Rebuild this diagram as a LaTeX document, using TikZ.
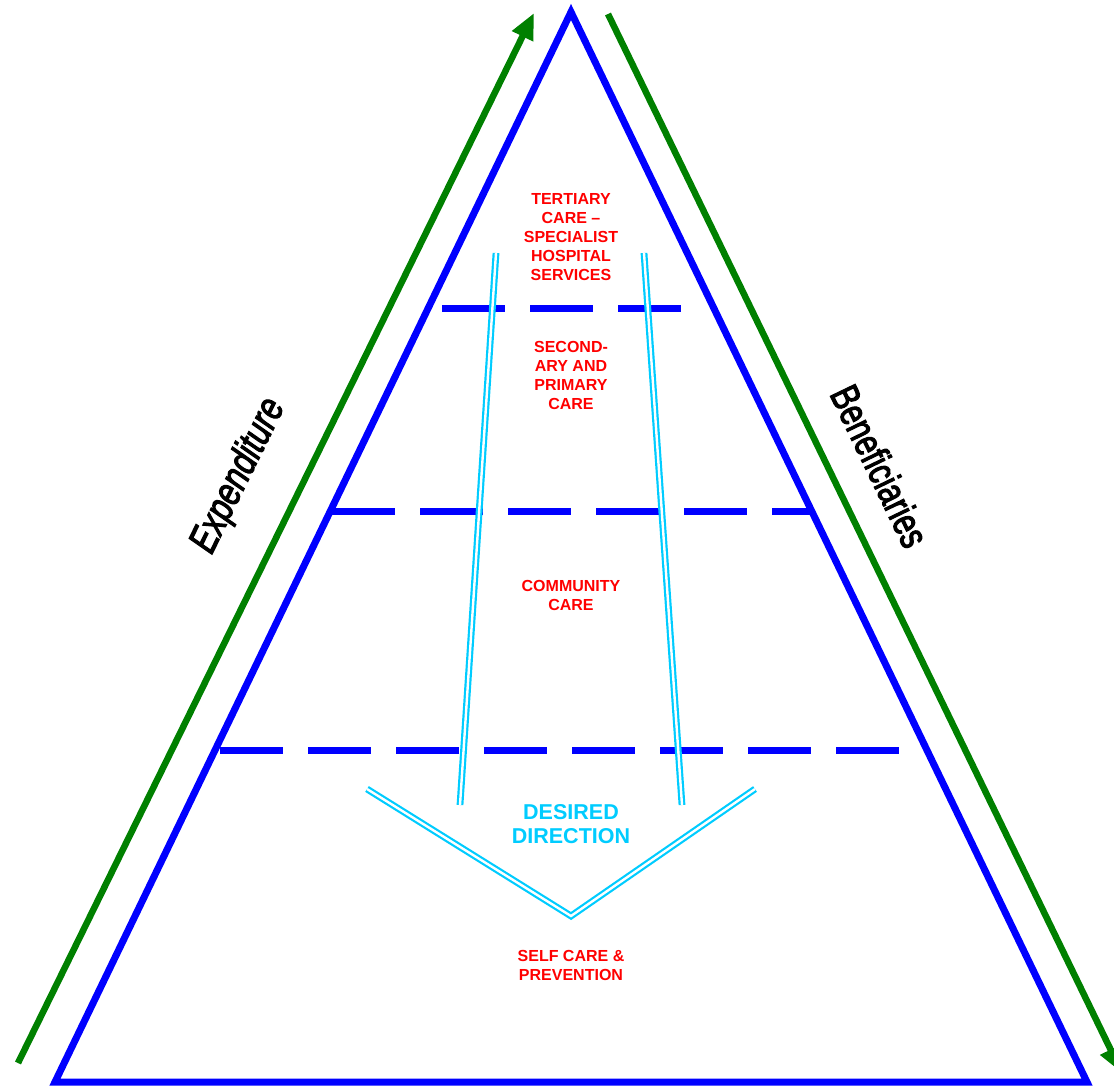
\documentclass[tikz,border=0pt]{standalone}
\usepackage{fontspec}
\setmainfont{Liberation Sans}
\usetikzlibrary{arrows.meta}
\definecolor{pblue}{RGB}{0,0,255}
\definecolor{pgreen}{RGB}{0,128,0}
\definecolor{pred}{RGB}{255,0,0}
\definecolor{pcyan}{RGB}{0,204,255}
\newcommand{\heavytext}[1]{\special{pdf:code q 2 Tr 1.2 w 0 G}#1\special{pdf:code Q}}
\tikzset{
  tri/.style={draw=pblue, line width=7pt, line join=miter},
  garrow/.style={draw=pgreen, line width=6.5pt, -{Triangle[length=26pt,width=22pt]}},
  level/.style={draw=pblue, line width=7pt, dash pattern=on 63pt off 25pt},
  dir/.style={draw=pcyan, line width=2.2pt, double=white, double distance=2.4pt},
  caretext/.style={text=pred, font=\fontsize{16}{19}\selectfont\bfseries, align=center, inner sep=0pt},
  dirtext/.style={text=pcyan, font=\fontsize{21.5}{24}\selectfont\bfseries, align=center, inner sep=0pt},
  sidetext/.style={text=black, inner sep=0pt}
}
\begin{document}
\begin{tikzpicture}[x=1pt,y=-1pt]
\useasboundingbox (0,0) rectangle (1114,1087);
% triangle corners
\coordinate (apex) at (571,12);
\coordinate (bl) at (55,1082);
\coordinate (br) at (1087,1082);
\draw[tri] (apex) -- (bl) -- (br) -- cycle;
% level dashed lines
\coordinate (l1a) at (442,308); \coordinate (l1b) at (682,308);
\coordinate (l2a) at (332,511); \coordinate (l2b) at (810,511);
\coordinate (l3a) at (220,750); \coordinate (l3b) at (900,750);
\draw[level] (l1a) -- (l1b);
\draw[level] (l2a) -- (l2b);
\draw[level] (l3a) -- (l3b);
% green arrows
\coordinate (e0) at (18,1063); \coordinate (e1) at (534,13);
\coordinate (b0) at (608,14); \coordinate (b1) at (1122,1073);
\draw[garrow] (e0) -- (e1);
\draw[garrow] (b0) -- (b1);
% desired direction
\coordinate (d1a) at (496,253); \coordinate (d1b) at (460,805);
\coordinate (d2a) at (644,253); \coordinate (d2b) at (682,805);
\coordinate (va) at (367,789); \coordinate (vm) at (571,916); \coordinate (vb) at (755,789);
\draw[dir] (d1a) -- (d1b);
\draw[dir] (d2a) -- (d2b);
\draw[dir, line join=miter] (va) -- (vm) -- (vb);
% texts
\node[caretext] (tert) at (571,237) {TERTIARY\\CARE –\\SPECIALIST\\HOSPITAL\\SERVICES};
\node[caretext] (sec) at (571,375.5) {SECOND-\\ARY AND\\PRIMARY\\CARE};
\node[caretext] (comm) at (571,595.5) {COMMUNITY\\CARE};
\node[caretext] (self) at (571,965.5) {SELF CARE \&\\PREVENTION};
\node[dirtext] (des) at (571,824) {DESIRED\\DIRECTION};
\node[sidetext, rotate=63.8, font=\fontsize{40}{44}\selectfont\itshape, xscale=0.78] (exp) at (239,476) {\heavytext{Expenditure}};
\node[sidetext, rotate=-64.2, font=\fontsize{40}{44}\selectfont, xscale=0.76] (ben) at (880,466) {\heavytext{Beneficiaries}};
\end{tikzpicture}
\end{document}
